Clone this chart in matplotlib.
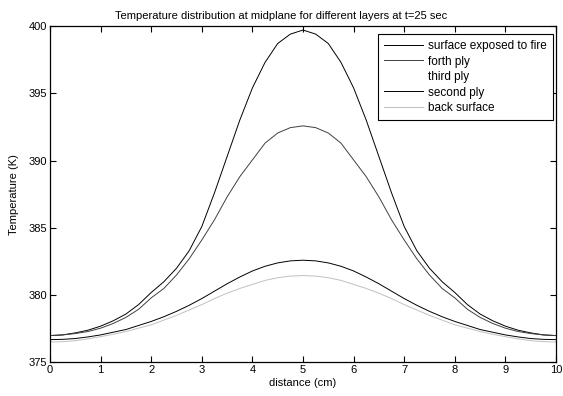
import matplotlib
matplotlib.use("Agg")
import matplotlib.pyplot as plt

# distance along the midplane (cm)
distance = [0, 0.25, 0.5, 0.75, 1, 1.25, 1.5, 1.75, 2, 2.25, 2.5, 2.75, 3, 3.25, 3.5, 3.75,
            4, 4.25, 4.5, 4.75, 5, 5.25, 5.5, 5.75, 6, 6.25, 6.5, 6.75, 7, 7.25, 7.5, 7.75,
            8, 8.25, 8.5, 8.75, 9, 9.25, 9.5, 9.75, 10]

# temperatures (K)
surface_fire = [377.0, 377.05, 377.2, 377.4, 377.7, 378.1, 378.6, 379.3, 380.2, 381.0, 382.0,
                383.3, 385.1, 387.6, 390.3, 393.0, 395.4, 397.3, 398.7, 399.4, 399.7, 399.4,
                398.7, 397.3, 395.4, 393.0, 390.3, 387.6, 385.1, 383.3, 382.0, 381.0, 380.2,
                379.3, 378.6, 378.1, 377.7, 377.4, 377.2, 377.05, 377.0]
forth_ply = [377.0, 377.05, 377.15, 377.3, 377.55, 377.9, 378.35, 378.95, 379.8, 380.5, 381.5,
             382.7, 384.1, 385.6, 387.3, 388.8, 390.05, 391.3, 392.05, 392.45, 392.58, 392.45,
             392.05, 391.3, 390.05, 388.8, 387.3, 385.6, 384.1, 382.7, 381.5, 380.5, 379.8,
             378.95, 378.35, 377.9, 377.55, 377.3, 377.15, 377.05, 377.0]
third_ply = [376.85, 376.88, 376.96, 377.1, 377.3, 377.55, 377.9, 378.35, 378.9, 379.5, 380.2,
             381.0, 381.9, 382.9, 384.0, 385.0, 385.9, 386.6, 387.1, 387.4, 387.5, 387.4,
             387.1, 386.6, 385.9, 385.0, 384.0, 382.9, 381.9, 381.0, 380.2, 379.5, 378.9,
             378.35, 377.9, 377.55, 377.3, 377.1, 376.96, 376.88, 376.85]
second_ply = [376.7, 376.72, 376.78, 376.9, 377.05, 377.25, 377.45, 377.75, 378.05, 378.4, 378.8,
              379.25, 379.75, 380.3, 380.85, 381.35, 381.8, 382.15, 382.4, 382.55, 382.6, 382.55,
              382.4, 382.15, 381.8, 381.35, 380.85, 380.3, 379.75, 379.25, 378.8, 378.4, 378.05,
              377.75, 377.45, 377.25, 377.05, 376.9, 376.78, 376.72, 376.7]
back_surface = [376.52, 376.55, 376.62, 376.75, 376.92, 377.1, 377.3, 377.55, 377.8, 378.15, 378.5,
                378.9, 379.3, 379.75, 380.15, 380.5, 380.8, 381.1, 381.3, 381.42, 381.46, 381.42,
                381.3, 381.1, 380.8, 380.5, 380.15, 379.75, 379.3, 378.9, 378.5, 378.15, 377.8,
                377.55, 377.3, 377.1, 376.92, 376.75, 376.62, 376.55, 376.52]

plt.rcParams["font.family"] = ["Liberation Sans", "DejaVu Sans"]
plt.rcParams["font.size"] = 8

fig = plt.figure(figsize=(5.63, 3.96), dpi=100)
ax = fig.add_axes([0.0888, 0.0846, 0.8988, 0.8497])

ax.plot(distance, surface_fire, color="black", lw=0.7, label="surface exposed to fire")
ax.plot(distance, forth_ply, color="#404040", lw=0.7, label="forth ply")
ax.plot(distance, third_ply, color="white", lw=0.7, label="third ply")
ax.plot(distance, second_ply, color="black", lw=0.7, label="second ply")
ax.plot(distance, back_surface, color="#c0c0c0", lw=0.7, label="back surface")

ax.set_xlim(0, 10)
ax.set_ylim(375, 400)
ax.set_xticks(range(0, 11))
ax.set_yticks(range(375, 401, 5))
ax.tick_params(direction="in", top=True, right=True, length=4, width=0.8, pad=2)
for s in ax.spines.values():
    s.set_linewidth(0.9)

# the title sits a little left of the axes centre in the original
ax.set_title("Temperature distribution at midplane for different layers at t=25 sec",
             fontsize=8, pad=5, x=0.4565)
ax.set_xlabel("distance (cm)", labelpad=2)
ax.set_ylabel("Temperature (K)", labelpad=7)

leg = ax.legend(loc="upper right", bbox_to_anchor=(0.994, 0.976), borderaxespad=0,
                fancybox=False, edgecolor="black", framealpha=1,
                handlelength=3.3, handletextpad=0.45, labelspacing=0.3,
                borderpad=0.5, fontsize=8.5)
leg.get_frame().set_linewidth(0.8)

fig.savefig("out.png", dpi=100)
